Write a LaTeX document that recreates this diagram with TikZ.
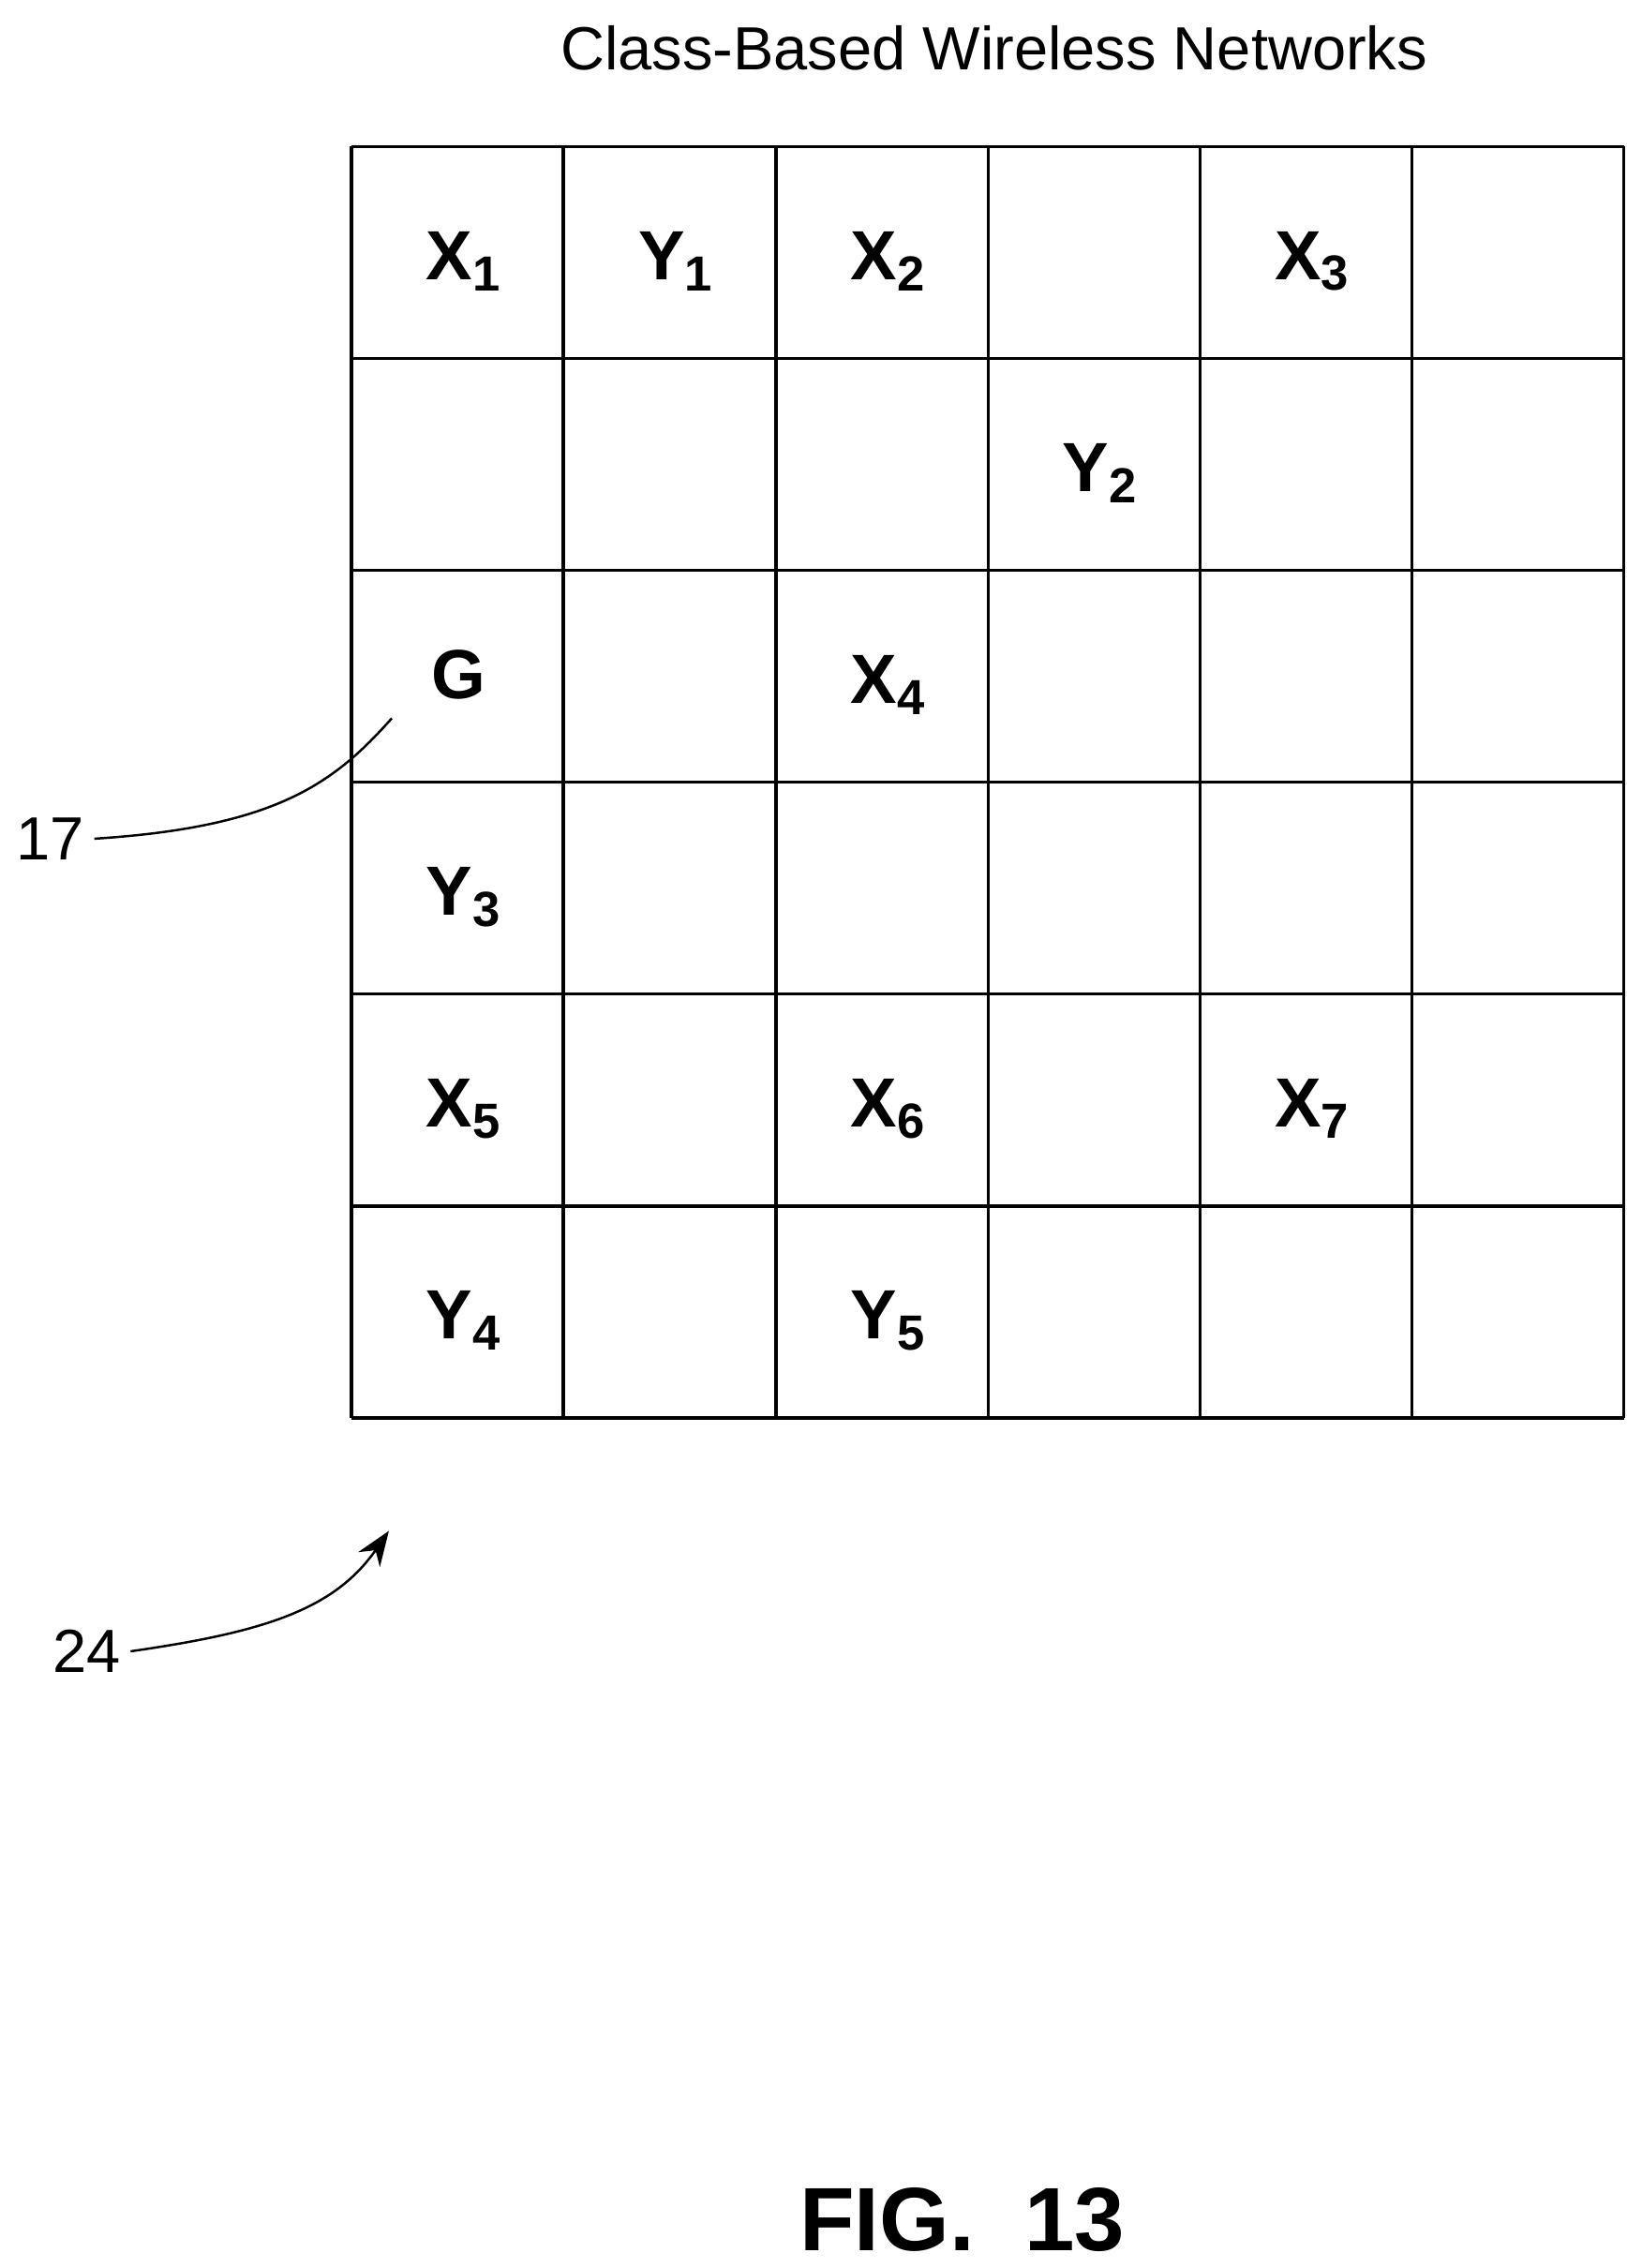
\documentclass[tikz,border=0pt]{standalone}
\usepackage{fontspec}
\setmainfont{Liberation Sans}
\usetikzlibrary{arrows.meta}
\begin{document}
\begin{tikzpicture}[x=0.5pt,y=-0.5pt,
  lab/.style={font=\fontsize{24}{28}\selectfont\bfseries},
  num/.style={font=\fontsize{21}{25}\selectfont},
  lead/.style={line width=0.8pt}]
\useasboundingbox (0,0) rectangle (1131,1563);
\node[font=\fontsize{21}{25}\selectfont] (title) at (685,33) {Class-Based Wireless Networks};
\foreach \x in {242,388,535,681,827,973,1119} \draw[line width=1.2pt] (\x,101) -- (\x,977);
\foreach \y in {101,247,393,539,685,831,977} \draw[line width=1.2pt] (242,\y) -- (1119,\y);
\def\cx#1{(242+146.2*#1-73)}
\foreach \c/\r/\t/\s/\n in {1/1/X/1/a,2/1/Y/1/b,3/1/X/2/c,5/1/X/3/d,4/2/Y/2/e,3/3/X/4/f,1/4/Y/3/g,1/5/X/5/h,3/5/X/6/i,5/5/X/7/j,1/6/Y/4/k,3/6/Y/5/l}
  \node[lab] (c\n) at ({242+146.2*\c-73+4},{101+146*\r-73+6}) {\t\raisebox{-0.3ex}{\fontsize{17}{20}\selectfont\s}};
\node[lab] (G) at (316,465) {G};
\node[num,anchor=east] (n17) at (65,578) {17};
\coordinate (g17) at (270,495);
\draw[lead] (n17.east) .. controls (190,570) and (230,540) .. (g17);
\node[num,anchor=east] (n24) at (90,1138) {24};
\coordinate (a24) at (268,1055);
\draw[lead,-{Stealth[length=12pt,width=9pt]}] (n24.east) .. controls (180,1125) and (230,1110) .. (a24);
\node[font=\fontsize{31}{36}\selectfont\bfseries] (fig) at (663,1530) {FIG.\ \ 13};
\end{tikzpicture}
\end{document}
